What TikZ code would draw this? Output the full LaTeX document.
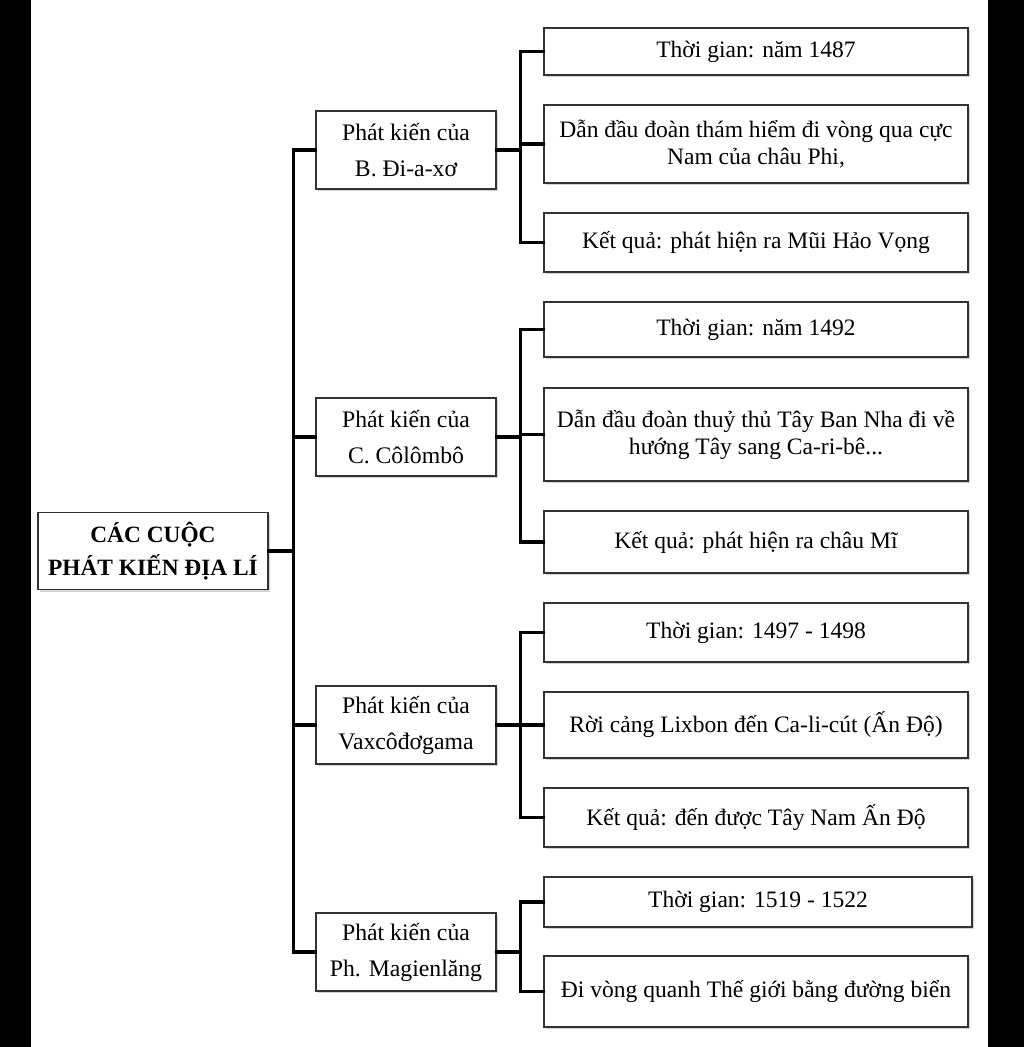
\documentclass[tikz,border=0pt]{standalone}
\usepackage{fontspec}
\setmainfont{Liberation Serif}
\usepackage{tikz}
\usetikzlibrary{positioning,calc,shadows}
\tikzset{
  box/.style={draw=black!80, line width=0.8pt, fill=white, align=center, inner sep=2pt,
              drop shadow={opacity=0.35, shadow xshift=1.2pt, shadow yshift=-1.2pt}},
  rootbox/.style={box, minimum width=4.6cm, minimum height=1.54cm,
              font=\fontsize{13.3}{18.8}\selectfont\bfseries},
  findbox/.style={box, minimum width=3.6cm, minimum height=1.56cm,
              font=\fontsize{13.5}{20.5}\selectfont},
  factbox/.style={box, minimum width=8.48cm, font=\fontsize{13.4}{15.2}\selectfont},
  link/.style={line width=1.8pt, line cap=rect},
}

\begin{document}
\begin{tikzpicture}[x=0.02cm, y=-0.02cm]
  \useasboundingbox (0,0) rectangle (1024,1047);
  \fill[black] (0,0) rectangle (31,1047);
  \fill[black] (988,0) rectangle (1024,1047);

  \node[rootbox] (root) at (153,551) {CÁC CUỘC\\PHÁT KIẾN ĐỊA LÍ};

  \node[findbox] (diaz) at (406,150) {Phát kiến của\\B. Đi-a-xơ};
  \node[findbox] (colon) at (406,437) {Phát kiến của\\C. Côlômbô};
  \node[findbox] (gama) at (406,725) {Phát kiến của\\Vaxcôđơgama};
  \node[findbox] (magel) at (406,952) {Phát kiến của\\Ph. Magienlăng};

  \node[factbox, minimum height=0.94cm] (d1) at (756,51.5) {Thời gian: năm 1487};
  \node[factbox, minimum height=1.56cm] (d2) at (756,144) {Dẫn đầu đoàn thám hiểm đi vòng qua cực\\Nam của châu Phi,};
  \node[factbox, minimum height=1.18cm] (d3) at (756,242.5) {Kết quả: phát hiện ra Mũi Hảo Vọng};

  \node[factbox, minimum height=1.10cm] (c1) at (756,329.5) {Thời gian: năm 1492};
  \node[factbox, minimum height=1.86cm] (c2) at (756,434.5) {Dẫn đầu đoàn thuỷ thủ Tây Ban Nha đi về\\hướng Tây sang Ca-ri-bê...};
  \node[factbox, minimum height=1.24cm] (c3) at (756,542) {Kết quả: phát hiện ra châu Mĩ};

  \node[factbox, minimum height=1.18cm] (g1) at (756,632.5) {Thời gian: 1497 - 1498};
  \node[factbox, minimum height=1.32cm] (g2) at (756,725) {Rời cảng Lixbon đến Ca-li-cút (Ấn Độ)};
  \node[factbox, minimum height=1.18cm] (g3) at (756,817.5) {Kết quả: đến được Tây Nam Ấn Độ};

  \node[factbox, minimum width=8.56cm, minimum height=1.00cm] (m1) at (758,902) {Thời gian: 1519 - 1522};
  \node[factbox, minimum height=1.42cm] (m2) at (756,991.5) {Đi vòng quanh Thế giới bằng đường biển};

  \draw[link] (root.east) -- ++(25,0) coordinate (trunk);
  \foreach \n in {diaz,colon,gama,magel}
    \draw[link] (trunk) |- (\n.west);

  \draw[link] (diaz.east) -- ++(24,0) coordinate (sd);
  \foreach \n in {d1,d2,d3}
    \draw[link] (sd) |- (\n.west);
  \draw[link] (colon.east) -- ++(24,0) coordinate (sc);
  \foreach \n in {c1,c2,c3}
    \draw[link] (sc) |- (\n.west);
  \draw[link] (gama.east) -- ++(24,0) coordinate (sg);
  \foreach \n in {g1,g2,g3}
    \draw[link] (sg) |- (\n.west);
  \draw[link] (magel.east) -- ++(24,0) coordinate (sm);
  \foreach \n in {m1,m2}
    \draw[link] (sm) |- (\n.west);
\end{tikzpicture}
\end{document}
